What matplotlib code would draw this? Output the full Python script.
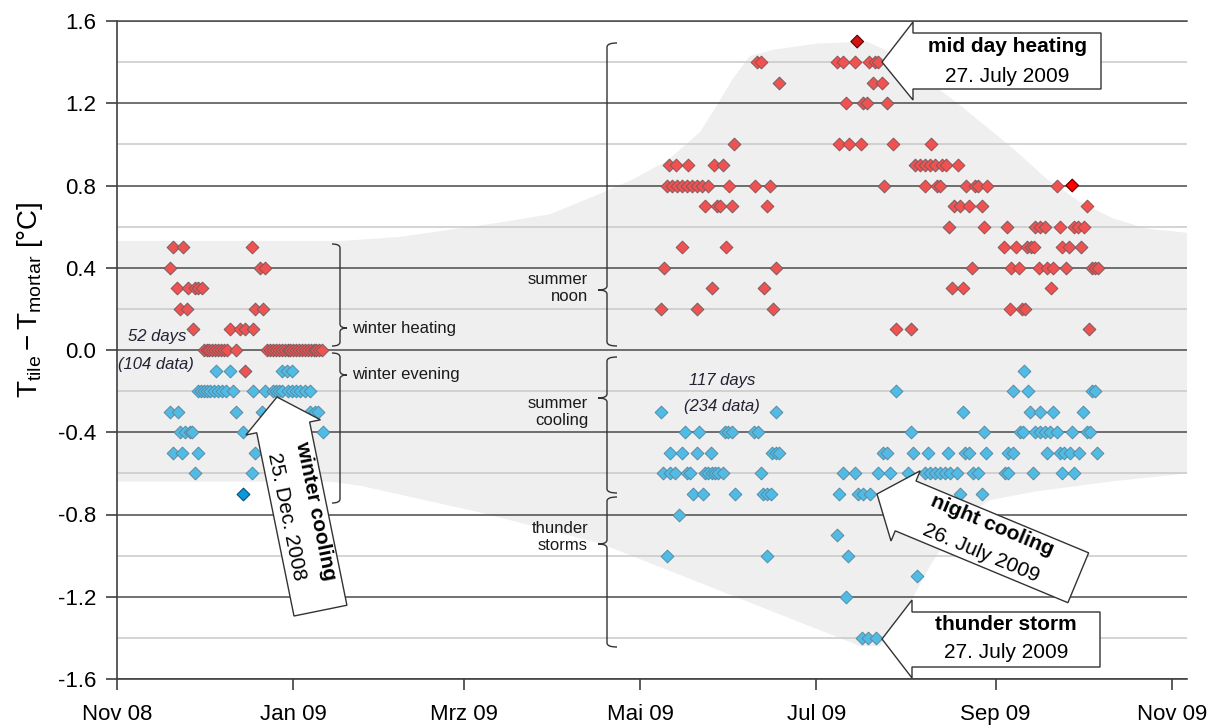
import numpy as np
import pandas as pd
import matplotlib
matplotlib.use("Agg")
import matplotlib.pyplot as plt
import matplotlib.dates as mdates
import matplotlib.transforms as mtransforms
from matplotlib.patches import Polygon, PathPatch
from matplotlib.path import Path
from matplotlib.ticker import FixedLocator, FixedFormatter

plt.rcParams['font.family'] = ['Liberation Sans', 'DejaVu Sans']
plt.rcParams['mathtext.fontset'] = 'custom'
plt.rcParams['mathtext.rm'] = 'Liberation Sans'
plt.rcParams['mathtext.it'] = 'Liberation Sans:italic'

# === data: days after 1 Nov 2008, grouped by temperature difference ===
START = pd.Timestamp("2008-11-01")

winter_red = [
    (0.5, [19.5, 22.9, 46.6]),
    (0.4, [18.3, 49.5, 51.2]),
    (0.3, [20.7, 24.7, 27.0, 28.1, 29.3]),
    (0.2, [21.8, 24.1, 47.7, 50.6]),
    (0.1, [26.2, 39.1, 42.6, 44.3, 47.2]),
    (0.0, [30, 31, 32, 33, 34, 35, 36, 37, 38, 41,
           52, 53, 54, 55, 56, 57, 58, 59, 60, 61,
           62, 63, 64, 65, 66, 67, 68, 69, 70, 71]),
    (-0.1, [44.3]),
]
winter_blue = [
    (-0.1, [34.3, 39.1, 57.0, 58.7, 60.4]),
    (-0.2, [28.0, 29.1, 30.1, 31.1, 32.2, 33.6, 34.9, 36.3, 37.7, 40.1, 47.1,
            51.2, 54.0, 55.0, 56.1, 57.1, 59.2, 60.6, 61.9, 63.3, 65.0, 66.8]),
    (-0.3, [18.3, 21.1, 41.2, 50.2, 66.8, 68.5, 69.7]),
    (-0.4, [21.8, 23.5, 25.3, 26.0, 43.6, 71.3]),
    (-0.5, [19.4, 22.5, 28.0, 47.7]),
    (-0.6, [27.0, 46.7]),
]
summer_red = [
    (1.4, [221.3, 222.7, 249.0, 251.3, 255.3, 260.3, 262.3, 263.4]),
    (1.3, [229.1, 261.5, 264.6]),
    (1.2, [252.2, 258.2, 259.4, 266.3]),
    (1.0, [213.6, 249.9, 253.4, 257.4, 268.4, 281.6]),
    (0.9, [191.0, 193.4, 197.5, 206.6, 209.8, 276.1, 277.8, 279.6, 281.3,
           283.0, 285.3, 286.8, 291.1]),
    (0.8, [190.2, 191.9, 193.6, 195.4, 197.1, 198.8, 200.6, 202.3, 204.6,
           211.8, 220.7, 225.9, 265.3, 279.6, 283.6, 284.8, 293.8, 296.9,
           297.8, 300.9, 325.3]),
    (0.7, [203.5, 207.5, 208.6, 212.9, 225.0, 289.6, 291.7, 294.9, 299.2, 335.5]),
    (0.6, [287.9, 300.1, 308.0, 317.6, 319.4, 321.1, 326.3, 331.2, 332.4, 334.6]),
    (0.5, [195.5, 210.6, 306.9, 311.1, 314.8, 316.1, 317.3, 326.9, 329.4, 333.4]),
    (0.4, [189.4, 228.0, 295.9, 309.3, 312.2, 319.1, 321.7, 324.0, 328.4,
           337.2, 338.4, 339.5]),
    (0.3, [205.8, 223.9, 288.8, 292.8, 323.2]),
    (0.2, [188.2, 200.6, 226.9, 309.0, 313.0, 314.2]),
    (0.1, [269.4, 274.6, 336.4]),
]
summer_blue = [
    (-0.1, [313.9]),
    (-0.2, [269.5, 309.9, 315.1, 337.2, 338.4]),
    (-0.3, [188.2, 228.0, 292.8, 315.9, 319.4, 324.0, 334.3]),
    (-0.4, [196.5, 201.4, 210.4, 211.5, 212.7, 220.4, 221.9, 274.6, 300.0,
            312.4, 313.6, 317.6, 319.4, 321.1, 322.8, 325.3, 330.3, 335.5, 336.6]),
    (-0.5, [191.3, 195.4, 200.6, 205.5, 226.5, 227.9, 229.2, 265.1, 266.5,
            275.5, 280.7, 287.6, 293.4, 294.9, 300.6, 308.4, 310.1, 321.7,
            326.3, 327.8, 329.7, 333.0, 339.2]),
    (-0.6, [189.0, 191.3, 193.1, 197.1, 198.3, 203.4, 204.6, 205.8, 206.9,
            208.0, 209.6, 222.8, 251.3, 255.3, 263.4, 267.5, 273.8, 279.6,
            281.3, 283.0, 284.8, 286.5, 288.2, 290.5, 296.3, 298.0, 307.2,
            308.4, 316.8, 326.9, 331.1]),
    (-0.7, [199.4, 202.6, 213.8, 223.4, 224.8, 226.2, 249.9, 256.3, 258.2,
            260.5, 291.7, 299.2]),
    (-0.8, [194.5]),
    (-0.9, [249.2]),
    (-1.0, [190.2, 224.8, 253.0]),
    (-1.1, [276.7]),
    (-1.2, [252.2]),
    (-1.4, [257.8, 259.9, 262.6]),
]
# highlighted days (mid day heating, winter cooling, ...)
hot_days = [256.1, 330.5]
hot_vals = [1.5, 0.8]
cold_days = [43.6]
cold_vals = [-0.7]

# envelope of all data (grey band)
env_up_days = [0, 77.2, 97.9, 132.5, 149.8, 167.1, 178.5, 190.3, 201.7, 207.6,
               213.1, 219.0, 227.0, 242.2, 259.5, 268.5, 291.7, 310.0, 321.8,
               333.2, 344.6, 356.4, 370.2]
env_up_vals = [0.53, 0.53, 0.55, 0.62, 0.66, 0.76, 0.83, 0.92, 1.06, 1.19,
               1.32, 1.43, 1.46, 1.49, 1.50, 1.44, 1.19, 0.98, 0.83,
               0.72, 0.64, 0.59, 0.57]
env_lo_days = [0, 73.7, 84.1, 125.6, 167.1, 257.1, 264.0, 270.9, 281.3, 291.7,
               302.1, 316.9, 343.6, 370.2]
env_lo_vals = [-0.64, -0.64, -0.66, -0.79, -0.94, -1.44, -1.44, -1.32, -1.05,
               -0.82, -0.73, -0.69, -0.64, -0.60]

tick_dates = ["2008-11-01", "2009-01-01", "2009-03-01", "2009-05-01",
              "2009-07-01", "2009-09-01", "2009-11-01"]
tick_labels = ["Nov 08", "Jan 09", "Mrz 09", "Mai 09", "Jul 09", "Sep 09", "Nov 09"]
y_major = [-1.6, -1.2, -0.8, -0.4, 0.0, 0.4, 0.8, 1.2, 1.6]
y_labels = ["-1.6", "-1.2", "-0.8", "-0.4", "0.0", "0.4", "0.8", "1.2", "1.6"]
y_minor = [-1.4, -1.0, -0.6, -0.2, 0.2, 0.6, 1.0, 1.4]

t0 = mdates.date2num(START)


def unpack(rows):
    xs, ys = [], []
    for v, days in rows:
        xs += list(days)
        ys += [v] * len(days)
    return t0 + np.array(xs, dtype=float), np.array(ys)


# === figure ===
W, H = 1221, 727
fig = plt.figure(figsize=(W / 100, H / 100), dpi=100)
ax = fig.add_axes([117 / W, 1 - 679 / H, 1070 / W, 658 / H])
ref = mtransforms.Affine2D().scale(1 / W, -1 / H).translate(0, 1) + fig.transFigure

# grey band
bx = np.concatenate([t0 + np.array(env_up_days), t0 + np.array(env_lo_days)[::-1]])
by = np.concatenate([env_up_vals, env_lo_vals[::-1]])
ax.fill(bx, by, color="#efefef", lw=0, zorder=0.1)

RED, RED_E = "#f05252", "#80585a"
BLUE, BLUE_E = "#50bbe5", "#5a8aa2"
MS = 42
for rows, fc, ec in [(winter_blue, BLUE, BLUE_E), (summer_blue, BLUE, BLUE_E),
                     (winter_red, RED, RED_E), (summer_red, RED, RED_E)]:
    x, y = unpack(rows)
    ax.scatter(x, y, marker="D", s=MS, facecolor=fc, edgecolor=ec, lw=0.7, zorder=3)
ax.scatter(t0 + np.array(hot_days), hot_vals, marker="D", s=MS,
           facecolor=["#d81010", "#ff0000"], edgecolor="#5a0000", lw=0.8, zorder=4)
ax.scatter(t0 + np.array(cold_days), cold_vals, marker="D", s=MS,
           facecolor="#0898dc", edgecolor="#1a4a6a", lw=0.8, zorder=4)

ax.set_xlim(t0, t0 + 370.2)
ax.set_ylim(-1.6, 1.6)
ax.xaxis.set_major_locator(FixedLocator(mdates.date2num(pd.to_datetime(tick_dates))))
ax.xaxis.set_major_formatter(FixedFormatter(tick_labels))
ax.yaxis.set_major_locator(FixedLocator(y_major))
ax.yaxis.set_major_formatter(FixedFormatter(y_labels))
ax.yaxis.set_minor_locator(FixedLocator(y_minor))

ax.set_axisbelow(True)
ax.grid(which="major", axis="y", color="#4a4a4a", lw=1.1)
ax.grid(which="minor", axis="y", color="#c9c9c9", lw=1.1)
ax.tick_params(axis="y", which="major", direction="out", length=8, width=1.2,
               color="#404040", labelsize=16, pad=7)
ax.tick_params(axis="y", which="minor", length=0)
ax.tick_params(axis="x", direction="out", length=8, width=1.2, color="#404040",
               labelsize=16, pad=10)
for s in ["left", "bottom"]:
    ax.spines[s].set_color("#404040")
    ax.spines[s].set_linewidth(1.2)
ax.spines["top"].set_color("#4a4a4a")
ax.spines["top"].set_linewidth(1.1)
ax.spines["right"].set_visible(False)

fig.text(30 / W, 1 - 300 / H, r"$\mathregular{T_{tile} - T_{mortar}}$ [°C]",
         rotation=90, ha="center", va="center", fontsize=20)


# === braces and labels (reference pixel coordinates) ===
def brace(x, y0, y1, ym, side, curl=8, nub=7, r=4):
    verts = [(x - side * curl, y0), (x, y0), (x, y0 + r), (x, ym - r), (x, ym),
             (x + side * nub, ym), (x, ym), (x, ym + r), (x, y1 - r), (x, y1),
             (x - side * curl, y1)]
    codes = [Path.MOVETO, Path.CURVE3, Path.CURVE3, Path.LINETO, Path.CURVE3,
             Path.CURVE3, Path.CURVE3, Path.CURVE3, Path.LINETO, Path.CURVE3,
             Path.CURVE3]
    fig.add_artist(PathPatch(Path(verts, codes), fill=False, ec="#333333",
                             lw=1.0, transform=ref, zorder=4))


brace(340, 244, 346, 328, +1)
brace(340, 353, 503, 375, +1)
brace(607, 43, 346, 290, -1, curl=10, nub=9)
brace(607, 357, 493, 398, -1, curl=10, nub=9)
brace(607, 497, 647, 544, -1, curl=10, nub=9)

lab = dict(transform=ref, fontsize=12, color="#1a1a1a", va="center")
fig.text(352, 328, "winter heating", ha="left", **lab)
fig.text(352, 375, "winter evening", ha="left", **lab)
fig.text(588, 288, "summer\nnoon", ha="right", multialignment="right", **lab)
fig.text(588, 412, "summer\ncooling", ha="right", multialignment="right", **lab)
fig.text(588, 537, "thunder\nstorms", ha="right", multialignment="right", **lab)

ita = dict(transform=ref, fontsize=12, style="italic", color="#222233",
           ha="center", va="center")
fig.text(157, 337, "52 days", **ita)
fig.text(156, 365, "(104 data)", **ita)
fig.text(722, 380, "117 days", **ita)
fig.text(722, 406, "(234 data)", **ita)


# === callouts ===
def callout_box(pts, line1, line2, cx, y1, y2):
    fig.add_artist(Polygon(pts, closed=True, fc="white", ec="#333333", lw=1.0,
                           transform=ref, zorder=6))
    fig.text(cx, y1, line1, transform=ref, fontsize=15, fontweight="bold",
             ha="center", va="center", zorder=7)
    fig.text(cx, y2, line2, transform=ref, fontsize=15, ha="center",
             va="center", zorder=7)


callout_box([(913, 22), (882, 62), (913, 100), (913, 89), (1101, 89),
             (1101, 33), (913, 33)], "mid day heating", "27. July 2009",
            1007, 47, 76)
callout_box([(912, 600), (882, 639), (912, 678), (912, 667), (1100, 667),
             (1100, 612), (912, 612)], "thunder storm", "27. July 2009",
            1006, 625, 653)


def block_arrow(tip, theta, line1, line2, L=218, hl=31, hw=38, sw=27):
    th = np.radians(theta)
    d = np.array([np.cos(th), np.sin(th)])
    nv = np.array([-np.sin(th), np.cos(th)])
    tip = np.array(tip, dtype=float)
    local = [(0, 0), (hl, -hw), (hl, -sw), (L, -sw), (L, sw), (hl, sw), (hl, hw)]
    pts = [tuple(tip + u * d + n * nv) for u, n in local]
    fig.add_artist(Polygon(pts, closed=True, fc="white", ec="#333333", lw=1.0,
                           transform=ref, zorder=6))
    c = tip + 119 * d
    up = np.array([d[1], -d[0]])
    for txt, off, wt in [(line1, 15, "bold"), (line2, -15, "normal")]:
        p = c + off * up
        fig.text(p[0], p[1], txt, transform=ref, fontsize=15, fontweight=wt,
                 rotation=-theta, rotation_mode="anchor", ha="center",
                 va="center", zorder=7)


block_arrow((277, 397), 78.5, "winter cooling", "25. Dec. 2008")
block_arrow((877, 494), 22.6, "night cooling", "26. July 2009")

fig.savefig("out.png", dpi=100)
